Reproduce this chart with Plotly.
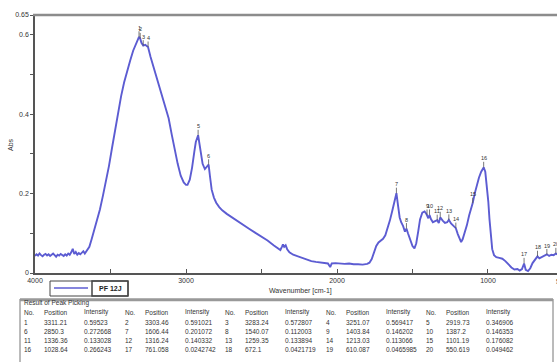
import plotly.graph_objects as go

# ---------------- data ----------------
wavenumber = [
    4000, 3990, 3980, 3970, 3960, 3950, 3940, 3930, 3920, 3910, 3900, 3890, 3880, 3870, 3860,
    3850, 3840, 3830, 3820, 3810, 3800, 3790, 3780, 3770, 3760, 3750, 3740, 3730, 3720, 3710,
    3700, 3690, 3680, 3670, 3660,
    3650, 3640, 3625, 3610, 3590, 3570, 3550, 3530, 3510, 3490, 3470, 3450, 3430, 3410, 3390,
    3370, 3350, 3330, 3311.21, 3303.46, 3295, 3283.24, 3270, 3260, 3251.07, 3235, 3215, 3195,
    3175, 3155, 3135, 3115, 3095, 3075, 3055, 3035, 3015, 3000, 2990, 2975, 2960, 2945, 2935,
    2919.73, 2905, 2890, 2875, 2862, 2850.3, 2840, 2830, 2815, 2800, 2780, 2760, 2730, 2700,
    2660, 2620, 2580, 2540, 2500, 2460, 2420, 2390, 2375, 2365, 2358, 2350, 2340, 2330, 2315,
    2290, 2260, 2230, 2200, 2170, 2140, 2110, 2080, 2060, 2045, 2035, 2010, 1980, 1950, 1920,
    1890, 1860, 1830, 1800, 1785, 1770, 1755, 1740, 1725, 1710, 1695, 1680, 1665, 1650, 1635,
    1620, 1606.44, 1595, 1585, 1575, 1562, 1550, 1540.07, 1530, 1515, 1500, 1487, 1475, 1462,
    1450, 1435, 1420, 1410, 1403.84, 1395, 1387.2, 1378, 1365, 1350, 1336.36, 1326, 1316.24,
    1300, 1285, 1270, 1259.35, 1245, 1230, 1213.03, 1200, 1188, 1178, 1168, 1155, 1140, 1125,
    1112, 1101.19, 1088, 1075, 1060, 1045, 1028.64, 1018, 1008, 998, 990, 982, 972, 960, 945,
    925, 905, 885, 865, 845, 825, 805, 790, 775, 761.058, 750, 735, 720, 705, 690, 672.1, 660,
    645, 630, 610.087, 595, 580, 565, 550.619, 540,
]
absorbance = [
    0.043, 0.047, 0.044, 0.049, 0.045, 0.042, 0.046, 0.048, 0.044, 0.047, 0.043, 0.046, 0.049, 0.045, 0.041,
    0.046, 0.044, 0.048, 0.045, 0.043, 0.047, 0.044, 0.049, 0.046, 0.052, 0.061, 0.048, 0.053, 0.046, 0.050,
    0.047, 0.051, 0.055, 0.049, 0.054,
    0.058, 0.066, 0.085, 0.105, 0.130, 0.160, 0.195, 0.230, 0.270, 0.315, 0.360, 0.405, 0.445, 0.480, 0.510,
    0.535, 0.560, 0.580, 0.595, 0.591, 0.580, 0.573, 0.575, 0.572, 0.569, 0.545, 0.520, 0.495,
    0.470, 0.445, 0.420, 0.390, 0.350, 0.310, 0.275, 0.245, 0.228, 0.222, 0.222, 0.235, 0.265, 0.305, 0.330,
    0.347, 0.310, 0.275, 0.262, 0.268, 0.273, 0.240, 0.210, 0.190, 0.177, 0.166, 0.158, 0.149, 0.141,
    0.131, 0.121, 0.111, 0.101, 0.092, 0.082, 0.070, 0.062, 0.058, 0.066, 0.072, 0.066, 0.070, 0.060, 0.052,
    0.046, 0.042, 0.037, 0.033, 0.030, 0.028, 0.027, 0.026, 0.024, 0.015, 0.024, 0.025, 0.024, 0.023, 0.024,
    0.022, 0.022, 0.021, 0.023, 0.026, 0.035, 0.050, 0.068, 0.077, 0.082, 0.086, 0.095, 0.112, 0.132, 0.155,
    0.178, 0.201, 0.168, 0.140, 0.128, 0.118, 0.104, 0.112, 0.100, 0.082, 0.068, 0.062, 0.075, 0.105,
    0.135, 0.152, 0.155, 0.150, 0.146, 0.138, 0.146, 0.136, 0.128, 0.130, 0.133, 0.126, 0.140,
    0.132, 0.126, 0.128, 0.134, 0.125, 0.118, 0.113, 0.098, 0.085, 0.078, 0.085, 0.100, 0.120, 0.145,
    0.160, 0.176, 0.200, 0.222, 0.240, 0.255, 0.266, 0.255, 0.225, 0.180, 0.135, 0.090, 0.060, 0.045, 0.040,
    0.038, 0.036, 0.030, 0.022, 0.014, 0.009, 0.010, 0.006, 0.010, 0.024, 0.008, 0.005, 0.012, 0.025, 0.033, 0.042, 0.037,
    0.040, 0.044, 0.047, 0.043, 0.046, 0.045, 0.049, 0.047,
]

peak_no = list(range(1, 21))
peak_pos = ["3311.21", "3303.46", "3283.24", "3251.07", "2919.73",
            "2850.3", "1606.44", "1540.07", "1403.84", "1387.2",
            "1336.36", "1316.24", "1259.35", "1213.03", "1101.19",
            "1028.64", "761.058", "672.1", "610.087", "550.619"]
peak_int = ["0.59523", "0.591021", "0.572807", "0.569417", "0.346906",
            "0.272668", "0.201072", "0.112003", "0.146202", "0.146353",
            "0.133028", "0.140332", "0.133894", "0.113066", "0.176082",
            "0.266243", "0.0242742", "0.0421719", "0.0465985", "0.049462"]

y_tickvals = [0, 0.1, 0.2, 0.3, 0.4, 0.5, 0.6, 0.65]
y_ticktext = ["0", "", "0.2", "", "0.4", "", "0.6", "0.65"]
x_tickvals = [4000, 3500, 3000, 2500, 2000, 1500, 1000]
x_ticktext = ["4000", "", "3000", "", "2000", "", "1000"]

legend_label = "PF 12J"
table_title = "Result of Peak Picking"
table_headers = ["No.", "Position", "Intensity"]

# ---------------- figure ----------------
W, H = 557, 362
L, T, R, B = 35, 15, 0, 89
PW, PH = W - L - R, H - T - B
FONT = "Liberation Sans, Arial, sans-serif"
LINE = "#5c5cd2"
TXT = "#333333"


def px(xp):
    return (xp - L) / PW


def py(yp):
    return (H - B - yp) / PH


def note(xp, yp, text, size=6.5, xanchor="center", **kw):
    return dict(x=px(xp), y=py(yp), xref="paper", yref="paper", text=text,
                xanchor=xanchor, yanchor="middle", showarrow=False,
                font=dict(size=size, color=kw.pop("color", TXT), family=FONT), **kw)


fig = go.Figure()
fig.add_trace(go.Scatter(x=wavenumber, y=absorbance, mode="lines",
                         line=dict(color=LINE, width=1.9), showlegend=False,
                         hoverinfo="skip"))

annotations = []
# peak labels
for n, p, i in zip(peak_no, peak_pos, peak_int):
    annotations.append(dict(x=float(p), y=float(i), xref="x", yref="y", text=str(n),
                            showarrow=True, arrowhead=0, arrowwidth=0.8, arrowcolor="#555",
                            ax=0, ay=-9, font=dict(size=5.5, color=TXT, family=FONT),
                            borderpad=0))

# axis titles
annotations.append(note(10, 145, "Abs", size=7, textangle=-90))
annotations.append(note(300, 291, "Wavenumber [cm-1]", size=7))
# partially visible 500 label at the cut edge
annotations.append(note(554, 281, "500", size=7, xanchor="left"))

# legend box
annotations.append(note(110, 288, "<b>" + legend_label + "</b>", size=7, color="#222"))

# table
annotations.append(note(22, 303, table_title, xanchor="left"))
col_off = [0, 20, 60]
for g in range(5):
    gx = 22 + 100.5 * g
    for c in range(3):
        annotations.append(note(gx + col_off[c], 312, table_headers[c], xanchor="left"))
for k in range(20):
    r, g = divmod(k, 5)
    gx = 22 + 100.5 * g
    yy = 322 + 9 * r
    vals = [str(peak_no[k]), peak_pos[k], peak_int[k]]
    for c in range(3):
        annotations.append(note(gx + col_off[c], yy, vals[c], xanchor="left"))

shapes = [
    # top frame line
    dict(type="line", xref="paper", yref="paper", x0=px(33), x1=1.0, y0=1, y1=1,
         line=dict(color="#8c8c8c", width=2.5)),
    # legend outer box
    dict(type="rect", xref="paper", yref="paper", x0=px(50), x1=px(128), y0=py(281), y1=py(296),
         line=dict(color="#444", width=1)),
    dict(type="rect", xref="paper", yref="paper", x0=px(92), x1=px(128), y0=py(281), y1=py(296),
         line=dict(color="#444", width=1.5)),
    dict(type="line", xref="paper", yref="paper", x0=px(54), x1=px(88), y0=py(288), y1=py(288),
         line=dict(color=LINE, width=1.5)),
    # table box
    dict(type="rect", xref="paper", yref="paper", x0=px(20), x1=px(553), y0=py(299), y1=py(370),
         line=dict(color="#777", width=1)),
    dict(type="line", xref="paper", yref="paper", x0=px(20), x1=px(553), y0=py(300), y1=py(300),
         line=dict(color="#999", width=2.5)),
]

fig.update_layout(
    width=W, height=H,
    margin=dict(l=L, r=R, t=T, b=B),
    paper_bgcolor="white", plot_bgcolor="white",
    font=dict(family=FONT, size=7, color=TXT),
    xaxis=dict(range=[4000, 543], tickvals=x_tickvals, ticktext=x_ticktext,
               showgrid=False, zeroline=False, showline=True, linecolor="#555", linewidth=1.5,
               ticks="inside", ticklen=4, tickcolor="#555", tickfont=dict(size=7)),
    yaxis=dict(range=[0, 0.65], tickvals=y_tickvals, ticktext=y_ticktext,
               showgrid=False, zeroline=False, showline=True, linecolor="#555", linewidth=1.5,
               ticks="outside", ticklen=3, tickcolor="#555", tickfont=dict(size=7)),
    annotations=annotations,
    shapes=shapes,
)

fig.write_html("out.html", config={"displayModeBar": False},
               post_script="document.body.style.margin='0';")
